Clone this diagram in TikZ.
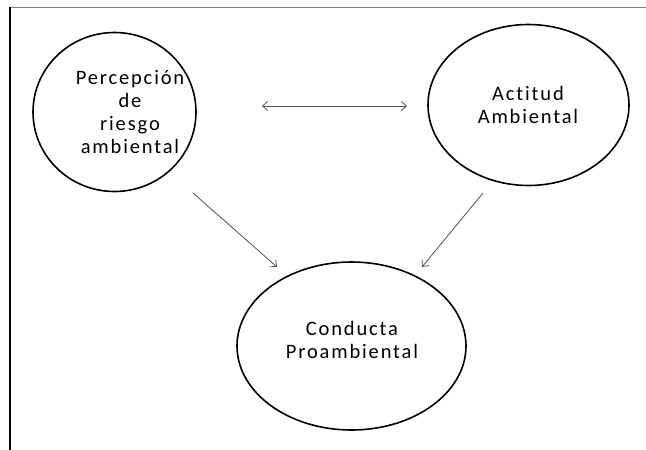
\documentclass[tikz,border=0pt]{standalone}
\usepackage{fontspec}
\setmainfont[LetterSpace=9,Ligatures={NoCommon}]{Carlito}
\usetikzlibrary{shapes.geometric,arrows.meta}
\begin{document}
\begin{tikzpicture}[x=1pt,y=-1pt,
  concept/.style={draw=black,line width=1.6pt,ellipse,inner sep=0pt},
  caption/.style={align=center,font=\fontsize{20.5}{23}\selectfont,inner sep=0pt,anchor=base},
  link/.style={draw=black!68,line width=0.8pt,-{Straight Barb[length=5pt,width=9pt]}},
  biglink/.style={draw=black!68,line width=0.8pt,{Straight Barb[length=5pt,width=9pt]}-{Straight Barb[length=5pt,width=9pt]}}]
  \useasboundingbox (0,0) rectangle (646,450);
  \fill[white] (0,0) rectangle (646,450);
  % page edges
  \draw[black!50,line width=0.8pt] (10,7) -- (646,7);
  \draw[black,line width=1.3pt] (10,7) -- (10,450);
  % concepts
  \node[concept,minimum width=163pt,minimum height=159pt] (per) at (114.5,112) {};
  \node[concept,minimum width=201pt,minimum height=161pt] (act) at (528.5,105) {};
  \node[concept,minimum width=229pt,minimum height=168pt] (con) at (351.5,346) {};
  % captions, placed by the baseline of their last line
  \node[caption] (pertext) at (130,153) {Percepción\\de\\riesgo\\ambiental};
  \node[caption] (acttext) at (528,123) {Actitud\\Ambiental};
  \node[caption] (context) at (352,358) {Conducta\\Proambiental};
  % connector ends
  \coordinate (perR) at (262,106);
  \coordinate (actL) at (407,106);
  \coordinate (perB) at (193,193);
  \coordinate (conL) at (277,267);
  \coordinate (actB) at (483,193);
  \coordinate (conR) at (422,267);
  \draw[biglink] (perR) -- (actL);
  \draw[link] (perB) -- (conL);
  \draw[link] (actB) -- (conR);
\end{tikzpicture}
\end{document}
